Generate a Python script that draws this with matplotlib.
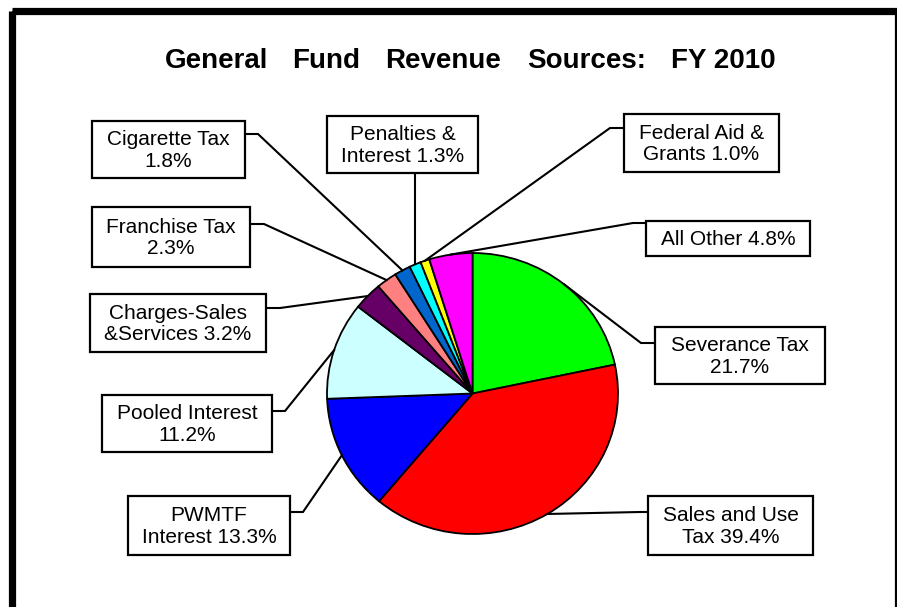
import numpy as np
import matplotlib
matplotlib.use("Agg")
import matplotlib.pyplot as plt
from matplotlib.patches import Rectangle

plt.rcParams['font.family'] = ['Liberation Sans', 'DejaVu Sans']

# data (clockwise from 12 o'clock)
sources = ["Severance Tax", "Sales and Use Tax", "PWMTF Interest", "Pooled Interest",
           "Charges-Sales & Services", "Franchise Tax", "Cigarette Tax",
           "Penalties & Interest", "Federal Aid & Grants", "All Other"]
shares = [21.7, 39.4, 13.3, 11.2, 3.2, 2.3, 1.8, 1.3, 1.0, 4.8]
label_text = ["Severance Tax\n21.7%", "Sales and Use\nTax 39.4%", "PWMTF\nInterest 13.3%",
              "Pooled Interest\n11.2%", "Charges-Sales\n&Services 3.2%", "Franchise Tax\n2.3%",
              "Cigarette Tax\n1.8%", "Penalties &\nInterest 1.3%", "Federal Aid &\nGrants 1.0%",
              "All Other 4.8%"]
colors = ["#00FF00", "#FF0000", "#0000FF", "#CCFFFF", "#660066",
          "#FF8080", "#0066CC", "#00FFFF", "#FFFF00", "#FF00FF"]

title_words = ["General", "Fund", "Revenue", "Sources:", "FY 2010"]
title_x = [217, 326, 443, 587, 723]   # word centres, px

# label boxes in pixels from top-left: x0, y0, x1, y1
boxes = [(655, 327, 825, 384), (648, 496, 813, 555), (128, 496, 290, 555),
         (102, 395, 272, 452), (90, 294, 266, 352), (92, 207, 250, 267),
         (92, 121, 245, 178), (327, 116, 478, 173), (624, 114, 779, 172),
         (646, 221, 810, 256)]
# (start x, start y, stub x) ; None -> vertical from box bottom
leaders = [(655, 343, 641), (648, 512, 640), (290, 512, 303), (272, 411, 285),
           (266, 308, 280), (250, 224, 264), (245, 134, 258), None,
           (624, 128, 610), (646, 223, 633)]

W, H = 897, 607
fig = plt.figure(figsize=(W / 100, H / 100), dpi=100)

# pie axes (slightly wider than tall, as in the original)
px0, py0, px1, py1 = 327, 253, 618, 534
ax = fig.add_axes([px0 / W, (H - py1) / H, (px1 - px0) / W, (py1 - py0) / H])
wedges, _ = ax.pie(shares, colors=colors, startangle=90, counterclock=False,
                   wedgeprops=dict(edgecolor="black", linewidth=1.3))
ax.set_aspect('auto')
ax.set_xlim(-1, 1)
ax.set_ylim(-1, 1)
ax.axis('off')

# overlay in pixel coordinates
ov = fig.add_axes([0, 0, 1, 1], zorder=5)
ov.set_xlim(0, W)
ov.set_ylim(H, 0)
ov.axis('off')

# outer frame (right and bottom edges run off the picture)
ov.add_patch(Rectangle((11.5, 11), 886, 700, fill=False, edgecolor="black",
                       linewidth=5.2, clip_on=False))

for word, x in zip(title_words, title_x):
    ov.text(x, 68, word, ha="center", va="baseline", fontsize=20, fontweight="bold")

to_ov = ax.transData + ov.transData.inverted()
for w, txt, box, ld in zip(wedges, label_text, boxes, leaders):
    mid = np.deg2rad((w.theta1 + w.theta2) / 2)
    ex, ey = to_ov.transform((np.cos(mid), np.sin(mid)))
    x0, y0, x1, y1 = box
    if ld is None:
        xs, ys = [ex, ex], [y1, ey]
    else:
        sx, sy, stx = ld
        xs, ys = [sx, stx, ex], [sy, sy, ey]
    ov.plot(xs, ys, color="black", linewidth=1.5, zorder=2, solid_joinstyle="miter")
    ov.add_patch(Rectangle((x0, y0), x1 - x0, y1 - y0, facecolor="white",
                           edgecolor="black", linewidth=1.6, zorder=3))
    ov.text((x0 + x1) / 2, (y0 + y1) / 2 + 1, txt, ha="center", va="center",
            fontsize=15, linespacing=1.18, zorder=4)

fig.savefig("out.png", dpi=100)
